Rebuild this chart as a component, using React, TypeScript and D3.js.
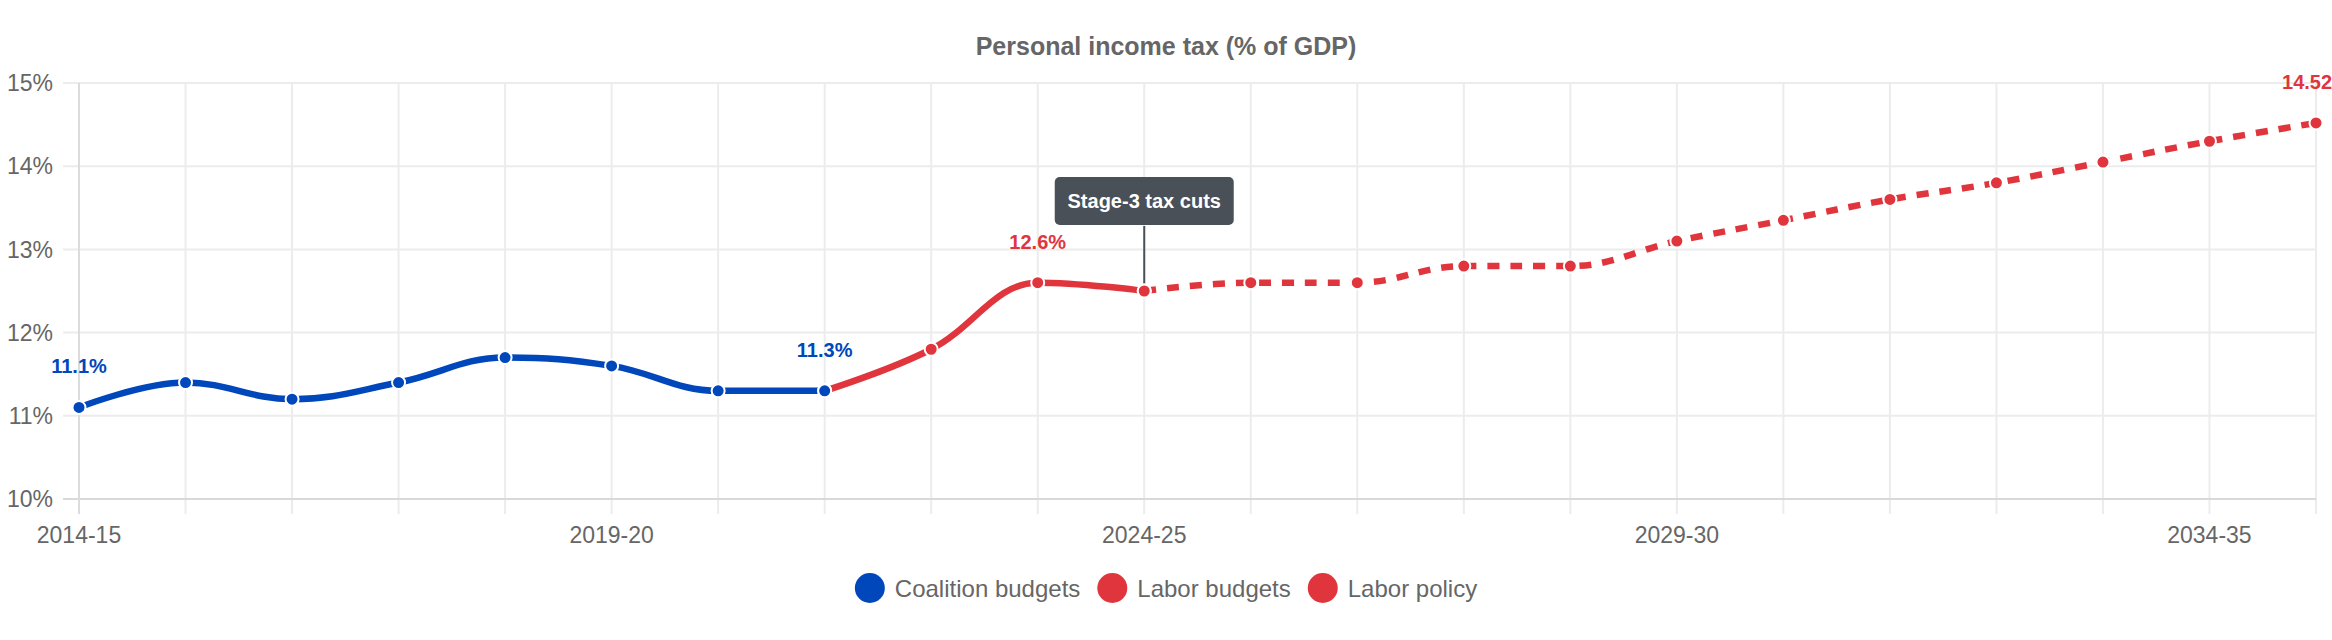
import React from 'react';
import * as d3 from 'd3';

const years = [
    '2014-15', '2015-16', '2016-17', '2017-18', '2018-19', '2019-20', '2020-21', '2021-22',
    '2022-23', '2023-24', '2024-25', '2025-26', '2026-27', '2027-28', '2028-29', '2029-30',
    '2030-31', '2031-32', '2032-33', '2033-34', '2034-35', '2035-36',
];
const xLabels = ['2014-15', '2019-20', '2024-25', '2029-30', '2034-35'];
const yTicks = [10, 11, 12, 13, 14, 15];

const coalitionYears = years.slice(0, 8);
const coalitionValues = [11.1, 11.4, 11.2, 11.4, 11.7, 11.6, 11.3, 11.3];
const laborBudgetYears = years.slice(7, 11);
const laborBudgetValues = [11.3, 11.8, 12.6, 12.5];
const laborPolicyYears = years.slice(10);
const laborPolicyValues = [12.5, 12.6, 12.6, 12.8, 12.8, 13.1, 13.35, 13.6, 13.8, 14.05, 14.3, 14.52];

// points that carry a value label
const labelYears = ['2014-15', '2021-22', '2023-24', '2035-36'];
const labelValues = [11.1, 11.3, 12.6, 14.52];
const labelSeries = ['coalition', 'coalition', 'laborBudgets', 'laborPolicy'];

const legendNames = ['Coalition budgets', 'Labor budgets', 'Labor policy'];

const BLUE = '#0047bb';
const RED = '#e0353d';
const GRID = '#ececec';
const TEXT = '#666666';
const FONT = '"Liberation Sans", Arial, Helvetica, sans-serif';

const colors: Record<string, string> = { coalition: BLUE, laborBudgets: RED, laborPolicy: RED };

const W = 2332;
const H = 640;
const margin = { top: 83, right: 16, bottom: 141, left: 79 };

function textWidth(text: string, font: string) {
    const ctx = document.createElement('canvas').getContext('2d');
    if (!ctx) return text.length * 12;
    ctx.font = font;
    return ctx.measureText(text).width;
}

// spline through pixel points, control points like a highcharts spline
function splinePath(pts: [number, number][]) {
    const sm = 1.5;
    const den = sm + 1;
    const right: ([number, number] | null)[] = [];
    const left: ([number, number] | null)[] = [];
    pts.forEach((p, i) => {
        const prev = pts[i - 1];
        const next = pts[i + 1];
        if (!prev || !next) {
            left.push(null);
            right.push(null);
            return;
        }
        const [px, py] = p;
        const lcx = (sm * px + prev[0]) / den;
        let lcy = (sm * py + prev[1]) / den;
        const rcx = (sm * px + next[0]) / den;
        let rcy = (sm * py + next[1]) / den;
        const corr = ((rcy - lcy) * (rcx - px)) / (rcx - lcx) + py - rcy;
        lcy += corr;
        rcy += corr;
        if (lcy > prev[1] && lcy > py) {
            lcy = Math.max(prev[1], py);
            rcy = 2 * py - lcy;
        } else if (lcy < prev[1] && lcy < py) {
            lcy = Math.min(prev[1], py);
            rcy = 2 * py - lcy;
        }
        if (rcy > next[1] && rcy > py) {
            rcy = Math.max(next[1], py);
            lcy = 2 * py - rcy;
        } else if (rcy < next[1] && rcy < py) {
            rcy = Math.min(next[1], py);
            lcy = 2 * py - rcy;
        }
        left.push([lcx, lcy]);
        right.push([rcx, rcy]);
    });
    const path = d3.path();
    pts.forEach((p, i) => {
        if (i === 0) {
            path.moveTo(p[0], p[1]);
            return;
        }
        const c1 = right[i - 1] || pts[i - 1];
        const c2 = left[i] || p;
        path.bezierCurveTo(c1[0], c1[1], c2[0], c2[1], p[0], p[1]);
    });
    return path.toString();
}

const App: React.FC = () => {
    const x = d3.scalePoint<string>().domain(years).range([margin.left, W - margin.right]);
    const y = d3.scaleLinear().domain([10, 15]).range([H - margin.bottom, margin.top]);

    const zip = (ys: string[], vs: number[]) => ys.map((yr, i) => [yr, vs[i]] as [string, number]);
    const coalition = zip(coalitionYears, coalitionValues);
    const laborBudgets = zip(laborBudgetYears, laborBudgetValues);
    const laborPolicy = zip(laborPolicyYears, laborPolicyValues);
    const toPx = (data: [string, number][]) => data.map((d) => [x(d[0]) as number, y(d[1])] as [number, number]);

    const x0 = margin.left;
    const x1 = W - margin.right;
    const yBase = y(10);

    // legend layout
    const legendFont = `24px ${FONT}`;
    const r = 15;
    const widths = legendNames.map((n) => textWidth(n, legendFont));
    const itemW = widths.map((w) => r * 2 + 10 + w);
    const gap = 17;
    const total = d3.sum(itemW) + gap * (legendNames.length - 1);
    let lx = (W - total) / 2;
    const legendPos = itemW.map((w) => {
        const p = lx;
        lx += w + gap;
        return p;
    });
    const legendColors = [BLUE, RED, RED];

    // annotation
    const annX = x('2024-25') as number;
    const annY = y(12.5);

    const dots = (data: [string, number][], color: string, key: string) =>
        data.map((d) => (
            <circle key={key + d[0]} cx={x(d[0])} cy={y(d[1])} r={6.5} fill={color} stroke="#fff" strokeWidth={2} />
        ));

    return (
        <svg width={W} height={H} style={{ position: 'absolute', left: 0, top: 0, background: '#fff' }} fontFamily={FONT}>
            <rect width={W} height={H} fill="#fff" />
            <text x={1166} y={55} textAnchor="middle" fontSize={25} fontWeight="bold" fill={TEXT}>
                Personal income tax (% of GDP)
            </text>

            {/* vertical grid + ticks */}
            {years.map((yr) => (
                <line key={'vx' + yr} x1={x(yr)} x2={x(yr)} y1={margin.top} y2={yBase + 15} stroke={GRID} strokeWidth={2} />
            ))}
            {/* horizontal grid */}
            {yTicks.map((t) => (
                <line key={'hy' + t} x1={x0 - 16} x2={x1} y1={y(t)} y2={y(t)} stroke={t === 10 ? '#d9d9d9' : GRID} strokeWidth={2} />
            ))}
            <line x1={x0} x2={x0} y1={margin.top} y2={yBase + 15} stroke="#dcdcdc" strokeWidth={2} />

            {yTicks.map((t) => (
                <text key={'yl' + t} x={53} y={y(t)} dy="0.36em" textAnchor="end" fontSize={23} fill={TEXT}>
                    {t}%
                </text>
            ))}
            {xLabels.map((l) => (
                <text key={'xl' + l} x={x(l)} y={yBase + 44} textAnchor="middle" fontSize={23} fill={TEXT}>
                    {l}
                </text>
            ))}

            {/* annotation */}
            <line x1={annX} x2={annX} y1={226} y2={annY} stroke="#4a5058" strokeWidth={2} />
            <rect x={annX - 89.5} y={177} width={179} height={48} rx={5} fill="#4a5058" />
            <text x={annX} y={208} textAnchor="middle" fontSize={20} fontWeight="bold" fill="#fff">
                Stage-3 tax cuts
            </text>

            {/* lines */}
            <path d={splinePath(toPx(laborPolicy))} fill="none" stroke={RED} strokeWidth={6.5} strokeDasharray="12 11" />
            <path d={splinePath(toPx(laborBudgets))} fill="none" stroke={RED} strokeWidth={6.5} />
            <path d={splinePath(toPx(coalition))} fill="none" stroke={BLUE} strokeWidth={6.5} />

            {dots(laborPolicy, RED, 'lp')}
            {dots(laborBudgets, RED, 'lb')}
            {dots(coalition, BLUE, 'co')}

            {/* value labels */}
            {labelYears.map((yr, i) => (
                <text
                    key={'vl' + yr}
                    x={x(yr)}
                    y={y(labelValues[i]) - 34}
                    textAnchor="middle"
                    fontSize={20}
                    fontWeight="bold"
                    fill={colors[labelSeries[i]]}
                >
                    {labelValues[i]}%
                </text>
            ))}

            {/* legend */}
            {legendNames.map((n, i) => (
                <g key={'lg' + n} transform={`translate(${legendPos[i]},588)`}>
                    <circle cx={r} cy={0} r={r} fill={legendColors[i]} />
                    <text x={r * 2 + 10} y={0} dy="0.36em" fontSize={24} fill={TEXT}>
                        {n}
                    </text>
                </g>
            ))}
        </svg>
    );
};

export default App;
